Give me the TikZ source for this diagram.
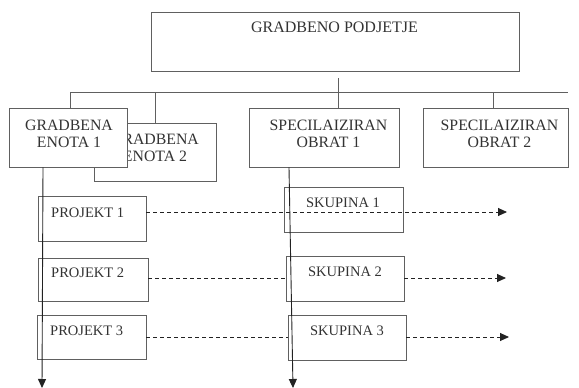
\documentclass[tikz,border=0pt]{standalone}
\usepackage{fontspec}
\setmainfont{Liberation Serif}
\usetikzlibrary{arrows.meta}
\definecolor{boxgray}{HTML}{606060}
\definecolor{txtgray}{HTML}{333333}
\definecolor{linedark}{HTML}{222222}
\tikzset{
  box/.style={draw=boxgray, line width=0.9pt, inner sep=0pt, anchor=center},
  whitebox/.style={box, fill=white},
  bigtxt/.style={text=txtgray, font=\fontsize{15.8}{17}\selectfont, align=center, inner sep=0pt},
  smalltxt/.style={text=txtgray, font=\fontsize{14.5}{16}\selectfont, inner sep=0pt, anchor=base},
  treeline/.style={draw=boxgray, line width=0.9pt},
  flow/.style={draw=linedark, line width=0.9pt, -{Triangle[length=9pt,width=8pt]}},
  link/.style={draw=linedark, line width=0.9pt, dash pattern=on 4pt off 3pt},
  linkarrow/.style={link, -{Triangle[length=9pt,width=8pt]}}
}
\begin{document}
\begin{tikzpicture}[x=1pt,y=-1pt]
\useasboundingbox[fill=white] (0,0) rectangle (579,388);

% company box
\node[box, minimum width=368pt, minimum height=59pt] (top) at (335,41.5) {};
\node[bigtxt, font=\fontsize{16}{17}\selectfont, anchor=base] (toptxt) at (334.5,32) {GRADBENO PODJETJE};

% tree lines
\coordinate (stem) at (338,78);
\coordinate (busL) at (70,92.5);
\coordinate (busR) at (568,92.5);
\coordinate (busM) at (338,92.5);
\draw[treeline] (stem) -- (busM);
\draw[treeline] (busL) -- (busR);

% units and plants
\node[whitebox, minimum width=122pt, minimum height=58pt] (ge2) at (155,152) {};
\node[bigtxt] (ge2txt) at (155,148) {GRADBENA\\ENOTA 2};
\draw[treeline] (155,92.5) -- (ge2.north);
\node[whitebox, minimum width=118pt, minimum height=59pt] (ge1) at (68,137.5) {};
\node[bigtxt] (ge1txt) at (69,133.5) {GRADBENA\\ENOTA 1};
\draw[treeline] (busL) -- (ge1.north -| busL);
\node[box, minimum width=150pt, minimum height=59pt] (so1) at (324,137.5) {};
\node[bigtxt] (so1txt) at (328.5,133.5) {SPECILAIZIRAN\\OBRAT 1};
\draw[treeline] (busM) -- (so1.north -| busM);
\node[box, minimum width=145pt, minimum height=59pt] (so2) at (495.5,137.5) {};
\node[bigtxt] (so2txt) at (499.5,133.5) {SPECILAIZIRAN\\OBRAT 2};
\draw[treeline] (493,92.5) -- (so2.north -| 493,0);

% projects
\node[box, minimum width=108pt, minimum height=45pt] (p1) at (92,218.5) {};
\node[smalltxt, anchor=base west] (p1txt) at (51,217) {PROJEKT 1};
\node[box, minimum width=110pt, minimum height=43pt] (p2) at (93,279.5) {};
\node[smalltxt, anchor=base west] (p2txt) at (51,277.5) {PROJEKT 2};
\node[box, minimum width=109pt, minimum height=44pt] (p3) at (91.5,337) {};
\node[smalltxt, anchor=base west] (p3txt) at (50,335.5) {PROJEKT 3};

% groups
\node[box, minimum width=119pt, minimum height=45pt] (s1) at (343.5,209.5) {};
\node[smalltxt] (s1txt) at (343,207) {SKUPINA 1};
\node[box, minimum width=118pt, minimum height=45pt] (s2) at (345,278.5) {};
\node[smalltxt] (s2txt) at (345,276) {SKUPINA 2};
\node[box, minimum width=118pt, minimum height=45pt] (s3) at (347,337.5) {};
\node[smalltxt] (s3txt) at (347,335.5) {SKUPINA 3};

% dashed links
\coordinate (e1) at (507,212);
\coordinate (e2) at (506,278);
\coordinate (e3) at (509,337);
\draw[linkarrow] (p1.east |- e1) -- (e1);
\draw[link] (p2.east |- e2) -- (s2.west |- e2);
\draw[linkarrow] (s2.east |- e2) -- (e2);
\draw[link] (p3.east |- e3) -- (s3.west |- e3);
\draw[linkarrow] (s3.east |- e3) -- (e3);

% vertical flows
\coordinate (f1) at (42,388);
\coordinate (f2) at (293,388);
\draw[flow] (ge1.south -| 43,0) -- (f1);
\draw[flow] (so1.south -| 289,0) -- (f2);
\end{tikzpicture}
\end{document}
